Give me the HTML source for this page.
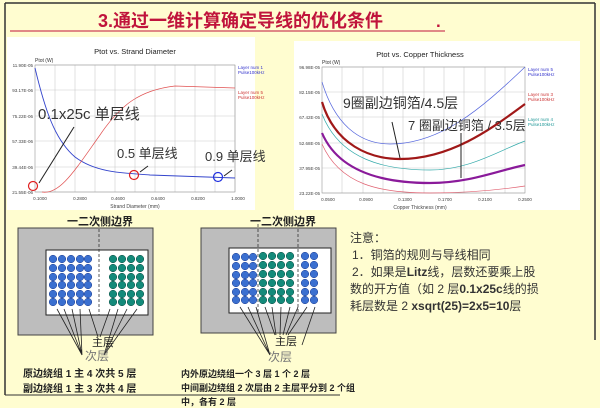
<!DOCTYPE html>
<html><head><meta charset="utf-8"><style>
html,body{margin:0;padding:0;background:#fffdd0;}
svg{display:block;font-family:"Liberation Sans","Noto Sans CJK SC",sans-serif;}
</style></head><body>
<svg width="600" height="408" viewBox="0 0 600 408" xmlns="http://www.w3.org/2000/svg">
<rect x="0" y="0" width="600" height="408" fill="#fffdd0"/>
<line x1="5" y1="3" x2="595" y2="3" stroke="#333" stroke-width="1.5"/>
<line x1="5" y1="3" x2="5" y2="395" stroke="#333" stroke-width="1.5"/>
<line x1="595" y1="3" x2="595" y2="340" stroke="#333" stroke-width="1.5"/>
<line x1="5" y1="395" x2="340" y2="395" stroke="#333" stroke-width="1"/>
<text x="98" y="27" font-size="18" font-weight="bold" fill="#c0143c">3.通过一维计算确定导线的优化条件</text>
<text x="436" y="27" font-size="17" font-weight="bold" fill="#c0143c">.</text>
<line x1="10" y1="31" x2="445" y2="31" stroke="#c0143c" stroke-width="1"/>

<!-- left chart -->
<rect x="7" y="37" width="248" height="173" fill="#fff"/>
<text x="135" y="54" font-size="7.5" text-anchor="middle" fill="#222">Ptot vs. Strand Diameter</text>
<text x="35" y="62" font-size="5" fill="#333">Ptot (W)</text>
<g stroke="#ccc" stroke-width="0.6">
<line x1="35" y1="65" x2="235" y2="65"/><line x1="35" y1="90" x2="235" y2="90"/><line x1="35" y1="116" x2="235" y2="116"/><line x1="35" y1="141" x2="235" y2="141"/><line x1="35" y1="167" x2="235" y2="167"/><line x1="35" y1="192" x2="235" y2="192"/>
<line x1="55" y1="65" x2="55" y2="192"/><line x1="75" y1="65" x2="75" y2="192"/><line x1="95" y1="65" x2="95" y2="192"/><line x1="115" y1="65" x2="115" y2="192"/><line x1="135" y1="65" x2="135" y2="192"/><line x1="155" y1="65" x2="155" y2="192"/><line x1="175" y1="65" x2="175" y2="192"/><line x1="195" y1="65" x2="195" y2="192"/><line x1="215" y1="65" x2="215" y2="192"/><line x1="235" y1="65" x2="235" y2="192"/>
</g>
<rect x="35" y="65" width="200" height="127" fill="none" stroke="#999" stroke-width="0.6"/>
<g font-size="4.5" fill="#444" text-anchor="end">
<text x="33" y="67">11.90E-05</text><text x="33" y="92">93.17E-06</text><text x="33" y="118">75.22E-06</text><text x="33" y="143">57.33E-06</text><text x="33" y="169">39.44E-06</text><text x="33" y="194">21.55E-06</text>
</g>
<g font-size="4.5" fill="#444" text-anchor="middle">
<text x="40" y="200">0.1000</text><text x="80" y="200">0.2800</text><text x="118" y="200">0.4600</text><text x="158" y="200">0.6400</text><text x="198" y="200">0.8200</text><text x="238" y="200">1.0000</text>
</g>
<text x="135" y="208" font-size="5" text-anchor="middle" fill="#444">Strand Diameter (mm)</text>
<text x="238" y="69" font-size="4.5" fill="#33c">Layer num 1</text><text x="238" y="74" font-size="4.5" fill="#33c">Pulse100kHz</text>
<text x="238" y="94" font-size="4.5" fill="#c33">Layer num 5</text><text x="238" y="99" font-size="4.5" fill="#c33">Pulse100kHz</text>
<path d="M35,68 C45,110 55,140 75,157 C95,172 120,173 150,175 L235,178" fill="none" stroke="#3344cc" stroke-width="0.9"/>
<path d="M42,192 C60,195 75,170 100,135 C120,105 140,90 175,86 L235,88" fill="none" stroke="#e05050" stroke-width="0.7"/>
<circle cx="33" cy="186" r="4.5" fill="none" stroke="#e02020" stroke-width="1.2"/>
<circle cx="134" cy="175" r="4.5" fill="none" stroke="#e02020" stroke-width="1.2"/>
<circle cx="218" cy="177" r="4.5" fill="none" stroke="#2030e0" stroke-width="1.2"/>
<line x1="74" y1="127" x2="39" y2="183" stroke="#222" stroke-width="1"/>
<line x1="148" y1="166" x2="140" y2="172" stroke="#222" stroke-width="1"/>
<line x1="232" y1="170" x2="224" y2="176" stroke="#222" stroke-width="1"/>
<text x="38" y="119" font-size="15" fill="#333">0.1x25c 单层线</text>
<text x="117" y="158" font-size="13" fill="#333">0.5 单层线</text>
<text x="205" y="161" font-size="13" fill="#333">0.9 单层线</text>

<!-- right chart -->
<rect x="294" y="41" width="286" height="169" fill="#fff"/>
<text x="420" y="57" font-size="7.5" text-anchor="middle" fill="#222">Ptot vs. Copper Thickness</text>
<text x="322" y="64" font-size="5" fill="#333">Ptot (W)</text>
<g stroke="#ccc" stroke-width="0.6">
<line x1="322" y1="67" x2="525" y2="67"/><line x1="322" y1="92" x2="525" y2="92"/><line x1="322" y1="117" x2="525" y2="117"/><line x1="322" y1="143" x2="525" y2="143"/><line x1="322" y1="168" x2="525" y2="168"/><line x1="322" y1="193" x2="525" y2="193"/>
<line x1="342" y1="67" x2="342" y2="193"/><line x1="363" y1="67" x2="363" y2="193"/><line x1="383" y1="67" x2="383" y2="193"/><line x1="403" y1="67" x2="403" y2="193"/><line x1="424" y1="67" x2="424" y2="193"/><line x1="444" y1="67" x2="444" y2="193"/><line x1="464" y1="67" x2="464" y2="193"/><line x1="485" y1="67" x2="485" y2="193"/><line x1="505" y1="67" x2="505" y2="193"/>
</g>
<rect x="322" y="67" width="203" height="126" fill="none" stroke="#999" stroke-width="0.6"/>
<g font-size="4.5" fill="#444" text-anchor="end">
<text x="320" y="69">96.98E-05</text><text x="320" y="94">82.15E-05</text><text x="320" y="119">67.42E-05</text><text x="320" y="145">52.68E-05</text><text x="320" y="170">37.95E-05</text><text x="320" y="195">23.22E-05</text>
</g>
<g font-size="4.5" fill="#444" text-anchor="middle">
<text x="328" y="201">0.0500</text><text x="366" y="201">0.0900</text><text x="405" y="201">0.1300</text><text x="445" y="201">0.1700</text><text x="485" y="201">0.2100</text><text x="525" y="201">0.2500</text>
</g>
<text x="420" y="209" font-size="5" text-anchor="middle" fill="#444">Copper Thickness (mm)</text>
<text x="528" y="71" font-size="4.5" fill="#33c">Layer num 5</text><text x="528" y="76" font-size="4.5" fill="#33c">Pulse100kHz</text>
<text x="528" y="96" font-size="4.5" fill="#c33">Layer num 3</text><text x="528" y="101" font-size="4.5" fill="#c33">Pulse100kHz</text>
<text x="528" y="121" font-size="4.5" fill="#299">Layer num 4</text><text x="528" y="126" font-size="4.5" fill="#299">Pulse100kHz</text>
<path d="M322,82 C335,125 360,144 390,144 C440,144 480,110 525,67" fill="none" stroke="#5566dd" stroke-width="0.7"/>
<path d="M322,102 C335,145 370,159 400,159 C450,159 490,130 525,104" fill="none" stroke="#a01818" stroke-width="2.2"/>
<path d="M322,114 C340,160 385,170 430,170 C470,170 500,150 525,141" fill="none" stroke="#33aaaa" stroke-width="0.7"/>
<path d="M322,133 C340,175 390,183 430,183 C470,183 500,170 525,165" fill="none" stroke="#8a1a9a" stroke-width="2.2"/>
<path d="M322,144 C340,185 380,193 430,193 C475,193 505,189 525,186" fill="none" stroke="#e06070" stroke-width="0.7"/>
<line x1="392" y1="122" x2="400" y2="158" stroke="#222" stroke-width="1"/>
<line x1="461" y1="133" x2="461" y2="178" stroke="#222" stroke-width="1"/>
<text x="343" y="108" font-size="14" fill="#333">9圈副边铜箔/4.5层</text>
<text x="408" y="130" font-size="13" fill="#333">7 圈副边铜箔 / 3.5层</text>

<!-- left diagram -->
<text x="100" y="225" font-size="11" font-weight="bold" text-anchor="middle" fill="#222">一二次侧边界</text>
<rect x="18" y="228" width="135" height="107" fill="#bdbdbd" stroke="#444" stroke-width="1"/>
<rect x="46" y="250" width="102" height="65" fill="#fff" stroke="#222" stroke-width="1"/>
<line x1="99" y1="224" x2="99" y2="315" stroke="#333" stroke-width="0.8" stroke-dasharray="3,2"/>
<g fill="#3a6fd0" stroke="#1a3a90" stroke-width="0.5">
<circle cx="53" cy="259" r="3.8"/><circle cx="53" cy="268" r="3.8"/><circle cx="53" cy="277" r="3.8"/><circle cx="53" cy="285" r="3.8"/><circle cx="53" cy="294" r="3.8"/><circle cx="53" cy="302" r="3.8"/>
<circle cx="62" cy="259" r="3.8"/><circle cx="62" cy="268" r="3.8"/><circle cx="62" cy="277" r="3.8"/><circle cx="62" cy="285" r="3.8"/><circle cx="62" cy="294" r="3.8"/><circle cx="62" cy="302" r="3.8"/>
<circle cx="71" cy="259" r="3.8"/><circle cx="71" cy="268" r="3.8"/><circle cx="71" cy="277" r="3.8"/><circle cx="71" cy="285" r="3.8"/><circle cx="71" cy="294" r="3.8"/><circle cx="71" cy="302" r="3.8"/>
<circle cx="80" cy="259" r="3.8"/><circle cx="80" cy="268" r="3.8"/><circle cx="80" cy="277" r="3.8"/><circle cx="80" cy="285" r="3.8"/><circle cx="80" cy="294" r="3.8"/><circle cx="80" cy="302" r="3.8"/>
<circle cx="88" cy="259" r="3.8"/><circle cx="88" cy="268" r="3.8"/><circle cx="88" cy="277" r="3.8"/><circle cx="88" cy="285" r="3.8"/><circle cx="88" cy="294" r="3.8"/><circle cx="88" cy="302" r="3.8"/>
</g>
<g fill="#138a7a" stroke="#0a4a40" stroke-width="0.5">
<circle cx="113" cy="259" r="3.8"/><circle cx="113" cy="268" r="3.8"/><circle cx="113" cy="277" r="3.8"/><circle cx="113" cy="285" r="3.8"/><circle cx="113" cy="294" r="3.8"/><circle cx="113" cy="302" r="3.8"/>
<circle cx="122" cy="259" r="3.8"/><circle cx="122" cy="268" r="3.8"/><circle cx="122" cy="277" r="3.8"/><circle cx="122" cy="285" r="3.8"/><circle cx="122" cy="294" r="3.8"/><circle cx="122" cy="302" r="3.8"/>
<circle cx="131" cy="259" r="3.8"/><circle cx="131" cy="268" r="3.8"/><circle cx="131" cy="277" r="3.8"/><circle cx="131" cy="285" r="3.8"/><circle cx="131" cy="294" r="3.8"/><circle cx="131" cy="302" r="3.8"/>
<circle cx="140" cy="259" r="3.8"/><circle cx="140" cy="268" r="3.8"/><circle cx="140" cy="277" r="3.8"/><circle cx="140" cy="285" r="3.8"/><circle cx="140" cy="294" r="3.8"/><circle cx="140" cy="302" r="3.8"/>
</g>
<g stroke="#222" stroke-width="0.8" fill="none">
<path d="M82,355 L57,309 M82,355 L64,309 M82,355 L72,309 M82,355 L80,309 M98,337 L89,309 M100,337 L110,309 M104,355 L118,309 M104,355 L127,309 M104,355 L137,309"/>
</g>
<text x="92" y="346" font-size="11" fill="#222">主层</text>
<text x="85" y="360" font-size="12" fill="#777">次层</text>
<text x="23" y="377" font-size="10" font-weight="bold" fill="#222">原边绕组 1 主 4 次共 5 层</text>
<text x="23" y="392" font-size="10" font-weight="bold" fill="#222">副边绕组 1 主 3 次共 4 层</text>

<!-- right diagram -->
<text x="283" y="225" font-size="11" font-weight="bold" text-anchor="middle" fill="#222">一二次侧边界</text>
<rect x="201" y="228" width="135" height="105" fill="#bdbdbd" stroke="#444" stroke-width="1"/>
<rect x="229" y="248" width="102" height="65" fill="#fff" stroke="#222" stroke-width="1"/>
<line x1="258" y1="224" x2="258" y2="313" stroke="#333" stroke-width="0.8" stroke-dasharray="3,2"/>
<line x1="298" y1="224" x2="298" y2="313" stroke="#333" stroke-width="0.8" stroke-dasharray="3,2"/>
<g fill="#3a6fd0" stroke="#1a3a90" stroke-width="0.5">
<circle cx="236" cy="257" r="3.8"/><circle cx="236" cy="266" r="3.8"/><circle cx="236" cy="275" r="3.8"/><circle cx="236" cy="283" r="3.8"/><circle cx="236" cy="292" r="3.8"/><circle cx="236" cy="300" r="3.8"/>
<circle cx="245" cy="257" r="3.8"/><circle cx="245" cy="266" r="3.8"/><circle cx="245" cy="275" r="3.8"/><circle cx="245" cy="283" r="3.8"/><circle cx="245" cy="292" r="3.8"/><circle cx="245" cy="300" r="3.8"/>
<circle cx="253" cy="257" r="3.8"/><circle cx="253" cy="266" r="3.8"/><circle cx="253" cy="275" r="3.8"/><circle cx="253" cy="283" r="3.8"/><circle cx="253" cy="292" r="3.8"/><circle cx="253" cy="300" r="3.8"/>
<circle cx="305" cy="256" r="3.8"/><circle cx="305" cy="265" r="3.8"/><circle cx="305" cy="274" r="3.8"/><circle cx="305" cy="283" r="3.8"/><circle cx="305" cy="292" r="3.8"/><circle cx="305" cy="300" r="3.8"/>
<circle cx="314" cy="256" r="3.8"/><circle cx="314" cy="265" r="3.8"/><circle cx="314" cy="274" r="3.8"/><circle cx="314" cy="283" r="3.8"/><circle cx="314" cy="292" r="3.8"/><circle cx="314" cy="300" r="3.8"/>
</g>
<g fill="#138a7a" stroke="#0a4a40" stroke-width="0.5">
<circle cx="263" cy="256" r="3.8"/><circle cx="263" cy="265" r="3.8"/><circle cx="263" cy="274" r="3.8"/><circle cx="263" cy="283" r="3.8"/><circle cx="263" cy="292" r="3.8"/><circle cx="263" cy="300" r="3.8"/>
<circle cx="272" cy="256" r="3.8"/><circle cx="272" cy="265" r="3.8"/><circle cx="272" cy="274" r="3.8"/><circle cx="272" cy="283" r="3.8"/><circle cx="272" cy="292" r="3.8"/><circle cx="272" cy="300" r="3.8"/>
<circle cx="281" cy="256" r="3.8"/><circle cx="281" cy="265" r="3.8"/><circle cx="281" cy="274" r="3.8"/><circle cx="281" cy="283" r="3.8"/><circle cx="281" cy="292" r="3.8"/><circle cx="281" cy="300" r="3.8"/>
<circle cx="290" cy="256" r="3.8"/><circle cx="290" cy="265" r="3.8"/><circle cx="290" cy="274" r="3.8"/><circle cx="290" cy="283" r="3.8"/><circle cx="290" cy="292" r="3.8"/><circle cx="290" cy="300" r="3.8"/>
</g>
<g stroke="#222" stroke-width="0.8" fill="none">
<path d="M270,355 L240,307 M270,355 L248,307 M270,355 L256,307 M275,335 L265,307 M276,335 L272,307 M280,335 L281,307 M283,335 L290,307 M286,335 L298,307 M288,335 L307,307 M302,345 L315,307"/>
</g>
<text x="275" y="345" font-size="11" fill="#222">主层</text>
<text x="268" y="361" font-size="12" fill="#777">次层</text>
<text x="181" y="377" font-size="9" font-weight="bold" fill="#222">内外原边绕组一个 3 层 1 个 2 层</text>
<text x="181" y="391" font-size="9" font-weight="bold" fill="#222">中间副边绕组 2 次层由 2 主层平分到 2 个组</text>
<text x="181" y="405" font-size="9" font-weight="bold" fill="#222">中，各有 2 层</text>

<!-- notes -->
<g font-size="12" fill="#333">
<text x="350" y="242">注意：</text>
<text x="352" y="259">1．铜箔的规则与导线相同</text>
<text x="352" y="276">2．如果是<tspan font-weight="bold">Litz</tspan>线，层数还要乘上股</text>
<text x="350" y="293">数的开方值（如 2 层<tspan font-weight="bold">0.1x25c</tspan>线的损</text>
<text x="350" y="310">耗层数是 2 <tspan font-weight="bold">xsqrt(25)=2x5=10</tspan>层</text>
</g>
</svg>
</body></html>
